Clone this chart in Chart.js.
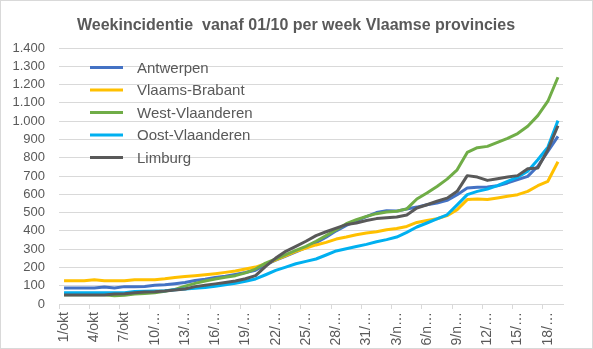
<!DOCTYPE html>
<html lang="nl">
<head>
<meta charset="UTF-8">
<title>Weekincidentie Vlaamse provincies</title>
<script src="https://cdn.jsdelivr.net/npm/chart.js"></script>
<style>
    body { margin: 0; background: #fff; }
    #wrap { width: 593px; height: 349px; }
</style>
</head>
<body>
<div id="wrap"><canvas id="grafiek" width="593" height="349"></canvas></div>
<script>
    // dagen 1/okt t.e.m. 19/nov
    const dagen = ['1/okt','2/okt','3/okt','4/okt','5/okt','6/okt','7/okt','8/okt','9/okt','10/okt',
        '11/okt','12/okt','13/okt','14/okt','15/okt','16/okt','17/okt','18/okt','19/okt','20/okt',
        '21/okt','22/okt','23/okt','24/okt','25/okt','26/okt','27/okt','28/okt','29/okt','30/okt',
        '31/okt','1/nov','2/nov','3/nov','4/nov','5/nov','6/nov','7/nov','8/nov','9/nov',
        '10/nov','11/nov','12/nov','13/nov','14/nov','15/nov','16/nov','17/nov','18/nov','19/nov'];

    // labels zoals Excel ze toont (om de 3 dagen, afgekort)
    const asLabels = ['1/okt','4/okt','7/okt','10/…','13/…','16/…','19/…','22/…','25/…',
        '28/…','31/…','3/n…','6/n…','9/n…','12/…','15/…','18/…'];

    const yTicks = [0, 100, 200, 300, 400, 500, 600, 700, 800, 900, 1000, 1100, 1200, 1300, 1400];

    const antwerpen = [87,87,87,87,93,87,95,95,96,102, 105,111,118,128,135,145,152,162,172,185,
        215,240,262,285,308,335,365,400,430,455, 478,500,510,508,520,530,543,552,567,598,
        634,638,640,647,662,680,698,753,835,917];
    const vlaamsBrabant = [127,127,127,133,127,127,127,133,133,133, 138,145,150,155,160,166,173,180,191,202,
        220,242,264,288,306,323,337,355,366,379, 388,395,406,413,424,446,457,466,483,516,
        571,574,571,580,589,598,616,647,671,778];
    const westVlaanderen = [50,50,50,50,50,45,48,55,58,62, 70,80,98,113,126,137,146,155,170,191,
        224,246,270,293,315,343,374,406,439,461, 479,494,503,507,520,574,607,643,683,734,
        829,855,862,884,906,932,972,1030,1109,1240];
    const oostVlaanderen = [62,62,62,62,62,62,62,68,70,71, 72,78,82,86,90,97,105,114,124,137,
        160,184,202,220,233,246,268,290,302,314, 326,340,352,366,392,421,443,465,488,542,
        598,616,629,647,671,694,726,789,858,1003];
    const limburg = [49,49,49,49,49,55,56,62,65,67, 71,77,82,95,102,110,118,126,138,155,
        206,251,288,315,343,374,395,415,434,443, 457,467,472,476,487,525,543,562,579,616,
        702,694,676,685,694,702,740,744,844,975];

    const titel = 'Weekincidentie  vanaf 01/10 per week Vlaamse provincies';
    const tekstKleur = '#595959';
    const rasterKleur = '#d9d9d9';

    function reeks(naam, data, kleur, volgorde) {
        return {
            label: naam,
            data: data,
            borderColor: kleur,
            backgroundColor: kleur,
            borderWidth: 3,
            pointRadius: 0,
            tension: 0,
            fill: false,
            borderJoinStyle: 'round',
            order: volgorde // laatste reeks bovenaan, zoals in Excel
        };
    }

    // titel, kader en legende zelf tekenen
    const extraTekenen = {
        id: 'extraTekenen',
        beforeDraw(chart) {
            const ctx = chart.ctx;
            ctx.save();
            ctx.fillStyle = '#fff';
            ctx.fillRect(0, 0, chart.width, chart.height);
            ctx.restore();
        },
        afterDraw(chart) {
            const ctx = chart.ctx;
            ctx.save();
            ctx.strokeStyle = rasterKleur;
            ctx.lineWidth = 1;
            ctx.strokeRect(0.5, 0.5, chart.width - 1, chart.height - 1);

            ctx.fillStyle = tekstKleur;
            ctx.font = 'bold 16px "Liberation Sans", Arial, sans-serif';
            ctx.textAlign = 'center';
            ctx.textBaseline = 'alphabetic';
            ctx.fillText(titel, 296, 30);

            // legende binnen de grafiek, linksboven
            ctx.font = '15px "Liberation Sans", Arial, sans-serif';
            ctx.textAlign = 'left';
            ctx.textBaseline = 'middle';
            chart.data.datasets.forEach(function (ds, i) {
                const y = 67.5 + i * 22.5;
                ctx.strokeStyle = ds.borderColor;
                ctx.lineWidth = 3;
                ctx.beginPath();
                ctx.moveTo(90, y);
                ctx.lineTo(123, y);
                ctx.stroke();
                ctx.fillStyle = tekstKleur;
                ctx.fillText(ds.label, 137, y + 1);
            });
            ctx.restore();
        }
    };

    new Chart(document.getElementById('grafiek'), {
        type: 'line',
        data: {
            labels: dagen,
            datasets: [
                reeks('Antwerpen', antwerpen, '#4472C4', 5),
                reeks('Vlaams-Brabant', vlaamsBrabant, '#FFC000', 4),
                reeks('West-Vlaanderen', westVlaanderen, '#70AD47', 3),
                reeks('Oost-Vlaanderen', oostVlaanderen, '#00B0F0', 2),
                reeks('Limburg', limburg, '#595959', 1)
            ]
        },
        options: {
            responsive: false,
            animation: false,
            layout: { padding: { left: 0, top: 48, right: 30, bottom: 0 } },
            plugins: {
                legend: { display: false },
                title: { display: false },
                tooltip: { enabled: false }
            },
            scales: {
                x: {
                    offset: true,
                    afterFit: function (s) { s.height = 45; },
                    grid: {
                        offset: true,
                        drawOnChartArea: false,
                        drawTicks: true,
                        tickLength: 5,
                        color: function (c) { return c.index % 3 === 0 ? rasterKleur : 'rgba(0,0,0,0)'; }
                    },
                    border: { display: true, color: rasterKleur, width: 1 },
                    ticks: {
                        autoSkip: false,
                        minRotation: 90,
                        maxRotation: 90,
                        padding: 3,
                        color: tekstKleur,
                        font: { family: '"Liberation Sans", Arial, sans-serif', size: 14 },
                        callback: function (v, i) { return i % 3 === 0 ? asLabels[i / 3] : ''; }
                    }
                },
                y: {
                    min: yTicks[0],
                    max: yTicks[yTicks.length - 1],
                    afterFit: function (s) { s.width = 59; },
                    afterBuildTicks: function (s) { s.ticks = yTicks.map(function (v) { return { value: v }; }); },
                    grid: { color: rasterKleur, drawTicks: false, lineWidth: 1 },
                    border: { display: false },
                    ticks: {
                        autoSkip: false,
                        padding: 14,
                        color: tekstKleur,
                        font: { family: '"Liberation Sans", Arial, sans-serif', size: 13 },
                        callback: function (v) { return String(v).replace(/\B(?=(\d{3})+(?!\d))/g, '.'); }
                    }
                }
            }
        },
        plugins: [extraTekenen]
    });
</script>
</body>
</html>
